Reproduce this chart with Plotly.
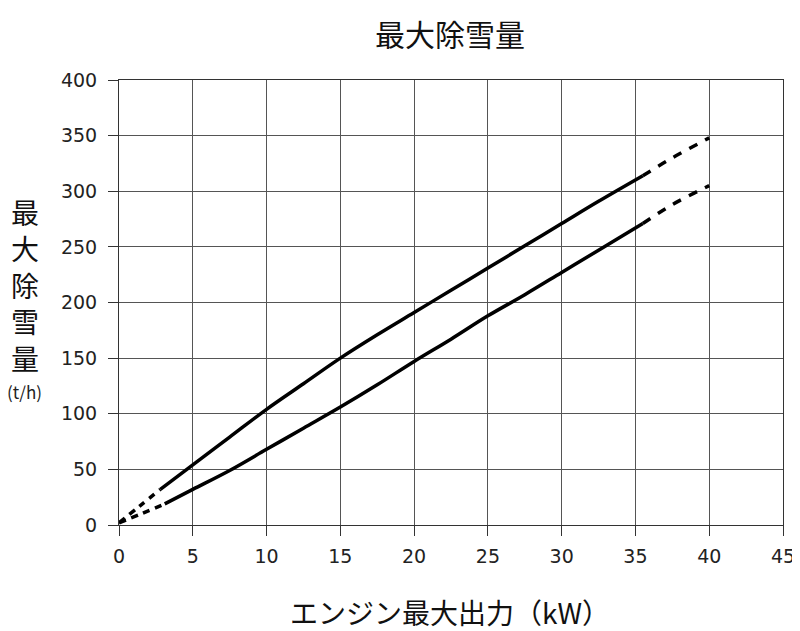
import plotly.graph_objects as go

# 出力(kW) と 最大除雪量(t/h) - 上側の曲線
upper_x = [0, 1.4, 2.8, 5, 7.5, 10, 12.5, 15, 17.5, 20, 22.5, 25, 27.5, 30, 32.5, 35.5, 37.5, 40]
upper_y = [2, 17, 32, 54, 79, 104, 127, 150, 171, 191, 211, 231, 251, 271, 291, 314, 330, 348]
upper_solid_from, upper_solid_to = 2, 15   # index range drawn as solid

# 下側の曲線
lower_x = [0, 1.5, 3.1, 5, 7.5, 10, 12.5, 15, 17.5, 20, 22.5, 25, 27.5, 30, 32.5, 35.5, 37.5, 40]
lower_y = [2, 10, 19, 32, 49, 68, 87, 106, 126, 147, 167, 188, 207, 227, 247, 271, 288, 305]
lower_solid_from, lower_solid_to = 2, 15

x_ticks = list(range(0, 50, 5))
y_ticks = list(range(0, 450, 50))

fig = go.Figure()


def add_curve(xs, ys, i0, i1):
    # dashed start, solid middle, dashed end
    fig.add_trace(go.Scatter(x=xs[:i0 + 1], y=ys[:i0 + 1], mode="lines", line_shape="spline",
                             line=dict(color="black", width=3.5, dash="7px,6px"), showlegend=False))
    fig.add_trace(go.Scatter(x=xs[i0:i1 + 1], y=ys[i0:i1 + 1], mode="lines", line_shape="spline",
                             line=dict(color="black", width=3.5), showlegend=False))
    fig.add_trace(go.Scatter(x=xs[i1:], y=ys[i1:], mode="lines", line_shape="spline",
                             line=dict(color="black", width=3.5, dash="9px,9px"), showlegend=False))


add_curve(upper_x, upper_y, upper_solid_from, upper_solid_to)
add_curve(lower_x, lower_y, lower_solid_from, lower_solid_to)

font_jp = "Noto Sans CJK JP"
tick_font = dict(size=19, color="#222", family="DejaVu Sans")

# page body has an 8px margin, so the figure is a bit smaller than the window
fig.update_layout(
    width=792, height=623,
    margin=dict(l=111, r=17, t=72, b=106, autoexpand=False),
    plot_bgcolor="white", paper_bgcolor="white",
    font=dict(family=font_jp, color="#222"),
    xaxis=dict(range=[0, 45], tickvals=x_ticks, showgrid=True, gridcolor="#555", gridwidth=1,
               zeroline=False, showline=True, linecolor="#333", linewidth=1, mirror=True,
               ticks="outside", ticklen=10, tickcolor="#333", ticklabelstandoff=4, tickfont=tick_font),
    yaxis=dict(range=[0, 400], tickvals=y_ticks, showgrid=True, gridcolor="#555", gridwidth=1,
               zeroline=False, showline=True, linecolor="#333", linewidth=1, mirror=True,
               ticks="outside", ticklen=10, tickcolor="#333", ticklabelstandoff=7, tickfont=tick_font),
    annotations=[
        dict(text="最大除雪量", xref="paper", yref="paper", x=0.4985, y=1.16,
             xanchor="center", yanchor="top", showarrow=False,
             font=dict(size=30, color="#111", family=font_jp)),
        dict(text="エンジン最大出力（kW）", xref="paper", yref="paper", x=0.4985, y=-0.195,
             xanchor="center", yanchor="middle", showarrow=False,
             font=dict(size=28, color="#111", family=font_jp)),
        dict(text="最<br>大<br>除<br>雪<br>量", xref="paper", yref="paper", x=-0.1416, y=0.539,
             xanchor="center", yanchor="middle", showarrow=False,
             font=dict(size=28, color="#111", family=font_jp)),
        dict(text="(t/h)", xref="paper", yref="paper", x=-0.1416, y=0.299,
             xanchor="center", yanchor="middle", showarrow=False,
             font=dict(size=17, color="#222", family=font_jp)),
    ],
)

fig.write_html("out.html")
